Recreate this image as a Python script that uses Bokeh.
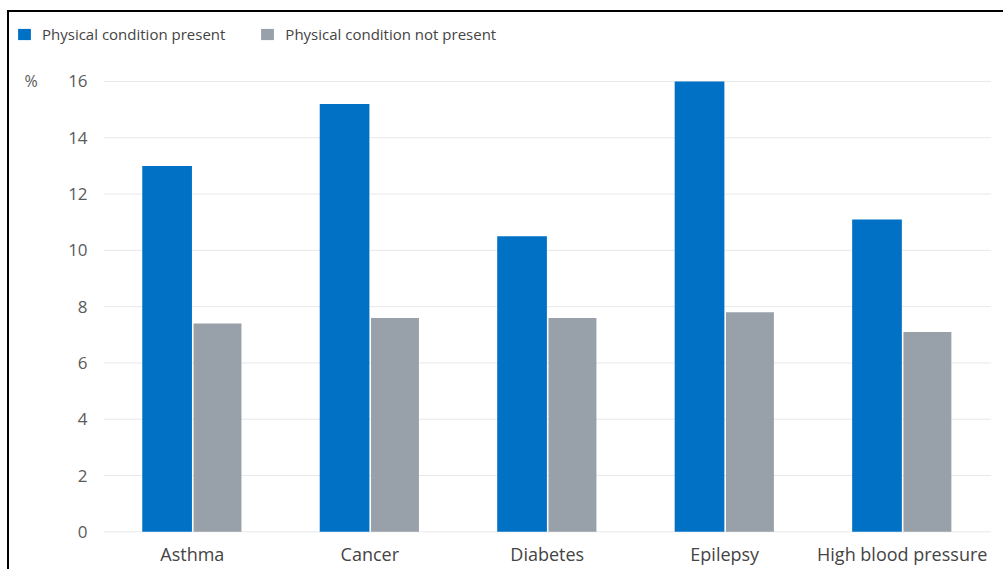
from bokeh.plotting import figure
from bokeh.models import ColumnDataSource, Range1d, Legend, LegendItem, Label
from bokeh.core.properties import value
from bokeh.transform import dodge
from bokeh.embed import file_html
from bokeh.resources import INLINE

conditions = ["Asthma", "Cancer", "Diabetes", "Epilepsy", "High blood pressure"]
present = [13.0, 15.2, 10.5, 16.0, 11.1]
not_present = [7.4, 7.6, 7.6, 7.8, 7.1]
y_ticks = [0, 2, 4, 6, 8, 10, 12, 14, 16]
series_names = ["Physical condition present", "Physical condition not present"]

BLUE = "#0071c5"
GRAY = "#98a1a9"
FONT = "Open Sans"

idx = list(range(len(conditions)))
src = ColumnDataSource(dict(x=idx, cat=conditions, present=present, not_present=not_present))

p = figure(
    width=996, height=559,
    x_range=Range1d(-1.03, 4.582),
    y_range=Range1d(-1.41, 18.45),
    output_backend="svg", toolbar_location=None,
    min_border_left=0, min_border_right=0, min_border_top=0, min_border_bottom=0,
    styles={"margin-left": "7px", "margin-top": "10px",
            "border-left": "2px solid #000", "border-top": "2px solid #000"},
)
p.outline_line_color = None
p.xgrid.grid_line_color = None
p.ygrid.grid_line_color = None
p.xaxis.visible = False
p.yaxis.visible = False

# horizontal gridlines at the tick values, spanning the category area
p.segment(x0=-0.5, x1=len(conditions) - 0.5, y0=y_ticks, y1=y_ticks,
          line_color="#e8e8e8", line_width=1)

r1 = p.vbar(x=dodge("x", -0.142), top="present", width=0.28, source=src,
            fill_color=BLUE, line_color=None)
r2 = p.vbar(x=dodge("x", 0.142), top="not_present", width=0.27, source=src,
            fill_color=GRAY, line_color=None)

# y tick labels
p.text(x=-0.59, y=y_ticks, text=[str(t) for t in y_ticks],
       text_font=value(FONT), text_font_size="17px", text_color="#5a5a5a",
       text_align="right", text_baseline="middle")

pct = Label(x=-0.945, y=y_ticks[-1], text="%", text_font=FONT, text_font_size="16px",
            text_color="#5a5a5a", text_baseline="middle", text_align="left")
p.add_layout(pct)

# category labels
p.text(x="x", y=-0.8, text="cat", source=src,
       text_font=value(FONT), text_font_size="18px", text_color="#444444",
       text_align="center", text_baseline="middle")

legend = Legend(items=[LegendItem(label=series_names[0], renderers=[r1]),
                       LegendItem(label=series_names[1], renderers=[r2])],
                location=(7, 527), orientation="horizontal",
                padding=0, margin=0, spacing=34, label_standoff=10,
                glyph_width=16, glyph_height=14,
                label_text_font=FONT, label_text_font_size="15px",
                label_text_color="#444444",
                border_line_color=None, background_fill_alpha=0)
p.add_layout(legend, "center")

open("out.html", "w").write(file_html(p, INLINE))
